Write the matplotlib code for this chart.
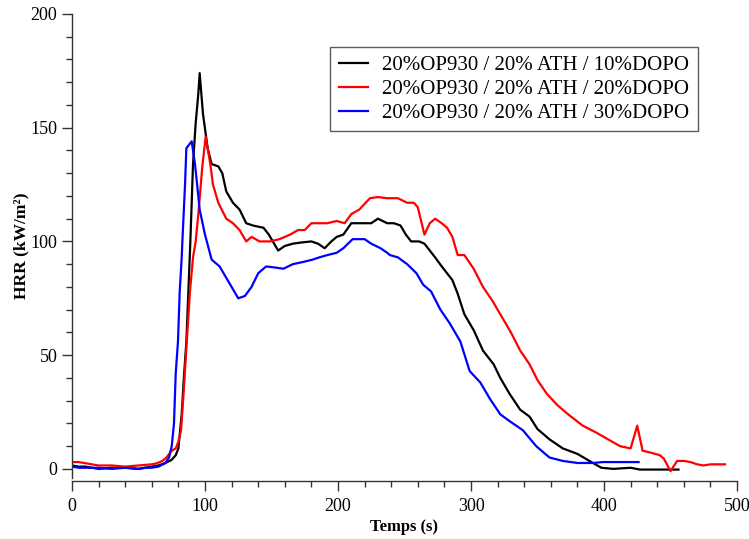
import numpy as np
import matplotlib
matplotlib.use("Agg")
import matplotlib.pyplot as plt
from matplotlib.ticker import MultipleLocator

plt.rcParams['font.family'] = ['Liberation Serif', 'DejaVu Serif']

# HRR curves (time s, HRR kW/m2)
t_10 = [0, 5, 10, 15, 20, 30, 40, 50, 60, 65, 70, 75, 78, 80, 82.5, 84, 86, 87.5, 89, 91,
        93, 95, 96, 98.5, 102, 105, 110, 113, 116, 121, 126, 131, 136, 144, 148, 155, 160,
        166, 172, 180, 185, 190, 195, 199, 204, 210, 218, 225, 230, 237, 242, 247, 251, 255,
        261, 265, 269, 273, 278, 282, 286, 290, 295, 302, 309, 317, 322, 329, 337, 344, 350,
        359, 369, 380, 389, 398, 407, 420, 427, 440, 456]
hrr_10 = [1.5, 1, 1, 0.5, 0, 0.5, 0.5, 0, 1, 1.5, 2.5, 4, 6, 9, 24, 39, 56, 78, 100, 134,
          152, 165, 174, 156, 141, 134, 133, 130, 122, 117, 114, 108, 107, 106, 103, 96, 98,
          99, 99.5, 100, 99, 97, 100, 102, 103, 108, 108, 108, 110, 108, 108, 107, 103, 100,
          100, 99, 96, 93, 89, 86, 83, 77, 68, 61, 52, 46, 40, 33, 26, 23, 17.5,
          13, 9, 6.6, 3.5, 0.5, 0, 0.5, -0.3, -0.3, -0.3]

t_20 = [0, 5, 10, 15, 20, 30, 40, 50, 60, 64, 68, 71, 75, 78, 80, 82, 84, 86, 88.7, 91, 93,
        95, 98, 100.5, 104, 106, 110, 116, 121, 126, 131, 135, 141, 149, 156, 164, 170, 175,
        180, 186, 192, 199, 205, 210, 216, 224, 230, 237, 245, 252, 257, 260, 265, 269, 273,
        278, 282, 286, 290, 295, 302, 309, 316, 322, 330, 337, 344, 350, 357, 365, 373, 384,
        394, 403, 412, 420, 425, 429, 436, 442, 445, 450, 455, 460, 465, 470, 475, 480, 491]
hrr_20 = [3, 3, 2.5, 2, 1.5, 1.5, 1, 1.5, 2, 2.5, 3.5, 5, 8, 9, 12, 17, 34, 53, 78, 93, 100,
          112, 133, 146, 134, 125, 117, 110, 108, 105, 100, 102, 100, 100, 101, 103, 105, 105,
          108, 108, 108, 109, 108, 112, 114, 119, 119.5, 119, 119, 117, 117, 115, 103, 108, 110,
          108, 106, 102, 94, 94, 88, 80, 74, 68, 60, 52, 46, 39, 33, 28, 24, 19,
          16, 13, 10, 9, 19, 8, 7, 6, 4.5, -1, 3.5, 3.5, 3, 2, 1.5, 2, 2]

t_30 = [0, 5, 10, 20, 30, 40, 50, 55, 60, 65, 70, 73, 75, 76.7, 78, 79.7, 81, 82.5, 83, 85,
        86, 90, 92.5, 96, 100, 105, 111, 116, 120, 125, 130, 135, 140, 146, 153, 159, 166,
        174, 181, 186, 192, 199, 204, 211, 220, 225, 232, 237, 239, 245, 252, 259, 264, 270,
        277, 284, 292, 299, 307, 314, 322, 329, 339, 349, 359, 369, 380, 392, 399, 410, 426]
hrr_30 = [1, 0.5, 0.5, 0.5, 0, 0.5, 0, 0.5, 0.5, 1, 2.5, 5, 10, 20, 42, 56, 78, 93, 100, 125,
          141, 144, 134, 114, 103, 92, 89, 84, 80, 75, 76, 80, 86, 89, 88.5, 88, 90,
          91, 92, 93, 94, 95, 97, 101, 101, 99, 97, 95, 94, 93, 90, 86, 81, 78,
          70, 64, 56, 43, 38, 31, 24, 21, 17, 10, 5, 3.5, 2.6, 2.6, 3, 3, 3]

labels = ["20%OP930 / 20% ATH / 10%DOPO",
          "20%OP930 / 20% ATH / 20%DOPO",
          "20%OP930 / 20% ATH / 30%DOPO"]
colors = ["black", "red", "blue"]

fig = plt.figure(figsize=(7.49, 5.39), dpi=100)
ax = fig.add_axes([0.0961, 0.1132, 0.8879, 0.8609])

for t, h, lab, c in zip([t_10, t_20, t_30], [hrr_10, hrr_20, hrr_30], labels, colors):
    ax.plot(t, h, color=c, lw=1.6, label=lab)

ax.set_xlim(0, 500)
ax.set_ylim(-4, 200)
ax.xaxis.set_major_locator(MultipleLocator(100))
ax.xaxis.set_minor_locator(MultipleLocator(20))
ax.yaxis.set_major_locator(MultipleLocator(50))
ax.yaxis.set_minor_locator(MultipleLocator(10))

ax.spines['top'].set_visible(False)
ax.spines['right'].set_visible(False)
ax.spines['bottom'].set_position(('outward', 2.5))
for s in ['left', 'bottom']:
    ax.spines[s].set_color('#333333')
    ax.spines[s].set_linewidth(1.0)

ax.tick_params(which='major', length=7, width=1, color='#333333', labelsize=13)
ax.tick_params(which='minor', length=4, width=1, color='#333333')
ax.tick_params(axis='x', pad=5)

ax.set_xlabel("Temps (s)", fontsize=12, fontweight='bold', labelpad=3)
ax.set_ylabel("HRR (kW/m²)", fontsize=12.5, fontweight='bold', labelpad=1)

leg = ax.legend(loc='upper right', bbox_to_anchor=(0.941, 0.929), fontsize=15,
                frameon=True, fancybox=False, edgecolor='#333333',
                handlelength=1.4, handletextpad=0.7, labelspacing=0.22,
                borderpad=0.4, borderaxespad=0)
leg.get_frame().set_linewidth(1.0)

fig.savefig("out.png", dpi=100)
